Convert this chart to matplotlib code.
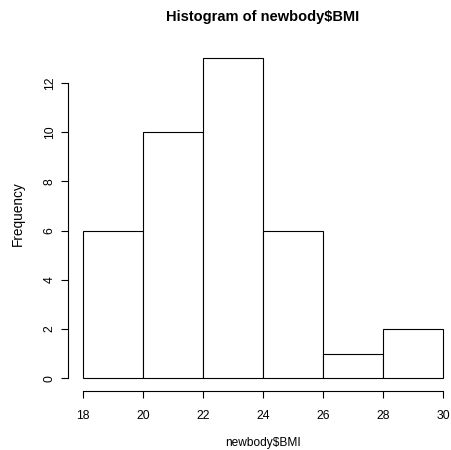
import matplotlib
matplotlib.use("Agg")
import matplotlib.pyplot as plt
import numpy as np

# bin edges and counts
bin_edges = [18, 20, 22, 24, 26, 28, 30]
counts = [6, 10, 13, 6, 1, 2]
x_ticks = [18, 20, 22, 24, 26, 28, 30]
y_ticks = [0, 2, 4, 6, 8, 10, 12]

plt.rcParams["font.family"] = ["Liberation Sans", "DejaVu Sans"]

W, H = 452, 450
fig = plt.figure(figsize=(W / 100, H / 100), dpi=100)
# plot region in pixels (R extends 4% beyond the data range)
left, right, top, bottom = 68.3, 457.7, 45.4, 391.0
ax = fig.add_axes([left / W, 1 - bottom / H, (right - left) / W, (bottom - top) / H])

edges = np.array(bin_edges)
ax.bar(edges[:-1], counts, width=np.diff(edges), align="edge",
       color="white", edgecolor="black", linewidth=0.8)

ax.set_xlim(17.52, 30.48)
ax.set_ylim(-0.52, 13.52)
for s in ("top", "right"):
    ax.spines[s].set_visible(False)
ax.spines["left"].set_bounds(0, 12)
ax.spines["bottom"].set_bounds(18, 30)
for s in ("left", "bottom"):
    ax.spines[s].set_linewidth(0.8)

ax.set_xticks(x_ticks)
ax.set_yticks(y_ticks)
ax.tick_params(direction="out", length=5, width=0.8, labelsize=8.8)
ax.tick_params(axis="x", pad=8.5)
ax.tick_params(axis="y", pad=4)
for lab in ax.get_yticklabels():
    lab.set_rotation(90)
    lab.set_va("center")

fig.text(263 / W, 1 - 17 / H, "Histogram of newbody$BMI", ha="center",
         va="center", fontsize=10.5, fontweight="bold")
fig.text(263 / W, 1 - 443 / H, "newbody$BMI", ha="center", va="center",
         fontsize=8.6)
fig.text(18 / W, 1 - 214 / H, "Frequency", ha="center", va="center",
         rotation=90, fontsize=9.8)

fig.savefig("out.png", dpi=100)
